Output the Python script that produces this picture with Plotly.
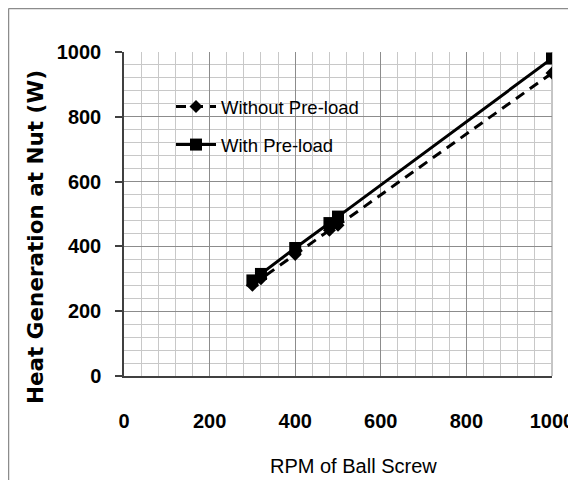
import plotly.graph_objects as go

rpm = [300, 320, 400, 480, 500, 1000]
heat_without = [280, 300, 375, 450, 465, 935]
heat_with = [295, 315, 395, 472, 492, 980]
tick_vals = [0, 200, 400, 600, 800, 1000]
tick_text = ["0", "200", "400", "600", "800", "1000"]
x_title = "RPM of Ball Screw"
y_title = "Heat Generation at Nut (W)"

fig = go.Figure()
fig.add_trace(go.Scatter(
    x=rpm, y=heat_without, name="Without Pre-load", mode="lines+markers",
    line=dict(color="black", width=3, dash="10px,7px"),
    marker=dict(symbol="diamond", size=10, color="black"),
    legendgroup="a"))
fig.add_trace(go.Scatter(
    x=rpm, y=heat_with, name="With Pre-load", mode="lines+markers",
    line=dict(color="black", width=3),
    marker=dict(symbol="square", size=12, color="black"),
    legendgroup="b"))

# page has an 8px body margin: figure starts at page (8, 8)
OFF = 8
W, H = 576 - OFF, 480 - OFF
PL, PR, PT, PB = 124, 552, 52, 376   # plot area in page pixels
L, R, T, B = PL - OFF, (W + OFF) - PR, PT - OFF, (H + OFF) - PB
pw, ph = PR - PL, PB - PT

def px(xp):
    return (xp - PL) / pw

def py(yp):
    return (PB - yp) / ph

tickfont = dict(family="Liberation Sans", size=20, color="black", weight="bold")

fig.update_layout(
    width=W, height=H,
    margin=dict(l=L, r=R, t=T, b=B, autoexpand=False),
    paper_bgcolor="white", plot_bgcolor="white",
    showlegend=True,
    legend=dict(x=px(171), y=py(88), xanchor="left", yanchor="top",
                bgcolor="rgba(0,0,0,0)", traceorder="grouped", tracegroupgap=11,
                font=dict(family="Liberation Sans", size=18.5, color="black"),
                itemwidth=40),
    xaxis=dict(range=[0, 1000], tickvals=tick_vals, ticktext=tick_text, automargin=False,
               showgrid=True, gridcolor="#8c8c8c", gridwidth=1,
               minor=dict(dtick=40, tick0=0, showgrid=True, gridcolor="#c8c8c8", gridwidth=1),
               showline=True, linecolor="#404040", linewidth=1.5,
               ticks="", ticklabelstandoff=26, zeroline=False,
               tickfont=tickfont),
    yaxis=dict(range=[0, 1000], tickvals=tick_vals, ticktext=tick_text, automargin=False,
               showgrid=True, gridcolor="#8c8c8c", gridwidth=1,
               minor=dict(dtick=40, tick0=0, showgrid=True, gridcolor="#c8c8c8", gridwidth=1),
               showline=True, linecolor="#404040", linewidth=1.5,
               ticks="outside", ticklen=7, tickcolor="#404040", tickwidth=1.5,
               ticklabelstandoff=10, zeroline=False,
               tickfont=tickfont),
    annotations=[
        dict(text=x_title, xref="paper", yref="paper", x=px(353), y=py(466),
             xanchor="center", yanchor="middle", showarrow=False,
             font=dict(family="Liberation Sans", size=20, color="black")),
        dict(text="<b>" + y_title + "</b>", xref="paper", yref="paper", x=px(35), y=py(237),
             xanchor="center", yanchor="middle", showarrow=False, textangle=-90,
             font=dict(family="DejaVu Sans", size=21.5, color="black")),
    ],
    shapes=[
        dict(type="line", xref="paper", yref="paper", x0=px(8.5), x1=px(600), y0=py(8.5), y1=py(8.5),
             line=dict(color="#8c8c8c", width=1.5)),
        dict(type="line", xref="paper", yref="paper", x0=px(8.5), x1=px(8.5), y0=py(8.5), y1=py(600),
             line=dict(color="#8c8c8c", width=1.5)),
        dict(type="line", xref="paper", yref="paper", x0=1, x1=1, y0=0, y1=1,
             line=dict(color="#8c8c8c", width=1), layer="below"),
    ],
)

fig.write_html("out.html")
